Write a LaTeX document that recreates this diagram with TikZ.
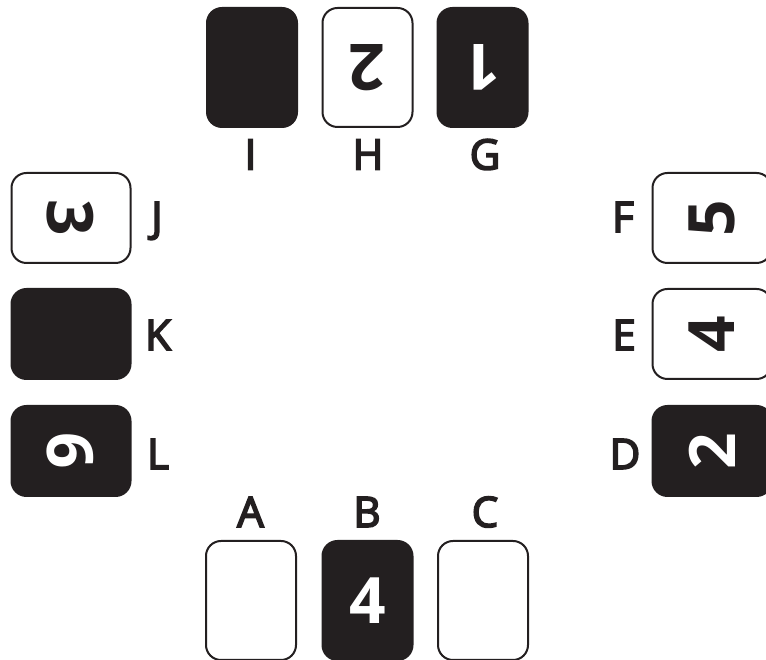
\documentclass[tikz,border=0pt]{standalone}
\usepackage{fontspec}
\setmainfont{Open Sans}
\newfontfamily\seatfont{Open Sans}[FakeBold=4]
\definecolor{cardink}{RGB}{35,31,32}
\tikzset{
  card/.style={draw=cardink,line width=2pt,rounded corners=15pt,minimum width=90pt,minimum height=119pt,inner sep=0pt,text depth=0pt,font=\fontsize{64}{64}\selectfont\bfseries},
  upcard/.style={card,fill=white,text=cardink},
  dncard/.style={card,fill=cardink,text=white},
  seat/.style={font=\fontsize{42}{42}\selectfont\seatfont,text=cardink,text height=30pt,text depth=0pt,inner sep=0pt}
}
\begin{document}
\begin{tikzpicture}[x=1pt,y=1pt]
  \useasboundingbox (0,0) rectangle (766,660);
  % Top side (cards face the centre)
  \node[dncard, rotate=180] (cardI) at (252, 592.5) {};
  \node[upcard, rotate=180] (cardH) at (367.5, 592.5) {2};
  \node[dncard, rotate=180] (cardG) at (482.5, 592.5) {1};
  \node[seat] (lblI) at (250.5, 505.5) {I};
  \node[seat] (lblH) at (368, 505.5) {H};
  \node[seat] (lblG) at (485, 505.5) {G};

  % Left side
  \node[upcard, rotate=-90] (cardJ) at (71, 442) {3};
  \node[dncard, rotate=-90] (cardK) at (71, 326) {};
  \node[dncard, rotate=-90] (cardL) at (71, 209) {6};
  \node[seat] (lblJ) at (157, 443) {J};
  \node[seat] (lblK) at (158, 325) {K};
  \node[seat] (lblL) at (158, 206) {L};

  % Right side
  \node[upcard, rotate=90] (cardF) at (712, 442) {5};
  \node[upcard, rotate=90] (cardE) at (712, 326) {4};
  \node[dncard, rotate=90] (cardD) at (712, 209) {2};
  \node[seat] (lblF) at (623, 443) {F};
  \node[seat] (lblE) at (624, 325) {E};
  \node[seat] (lblD) at (625, 206) {D};

  % Bottom side
  \node[upcard] (cardA) at (251, 59.5) {};
  \node[dncard] (cardB) at (367.5, 59.5) {4};
  \node[upcard] (cardC) at (483, 59.5) {};
  \node[seat] (lblA) at (250.5, 148) {A};
  \node[seat] (lblB) at (367, 148) {B};
  \node[seat] (lblC) at (485, 148) {C};
\end{tikzpicture}
\end{document}
